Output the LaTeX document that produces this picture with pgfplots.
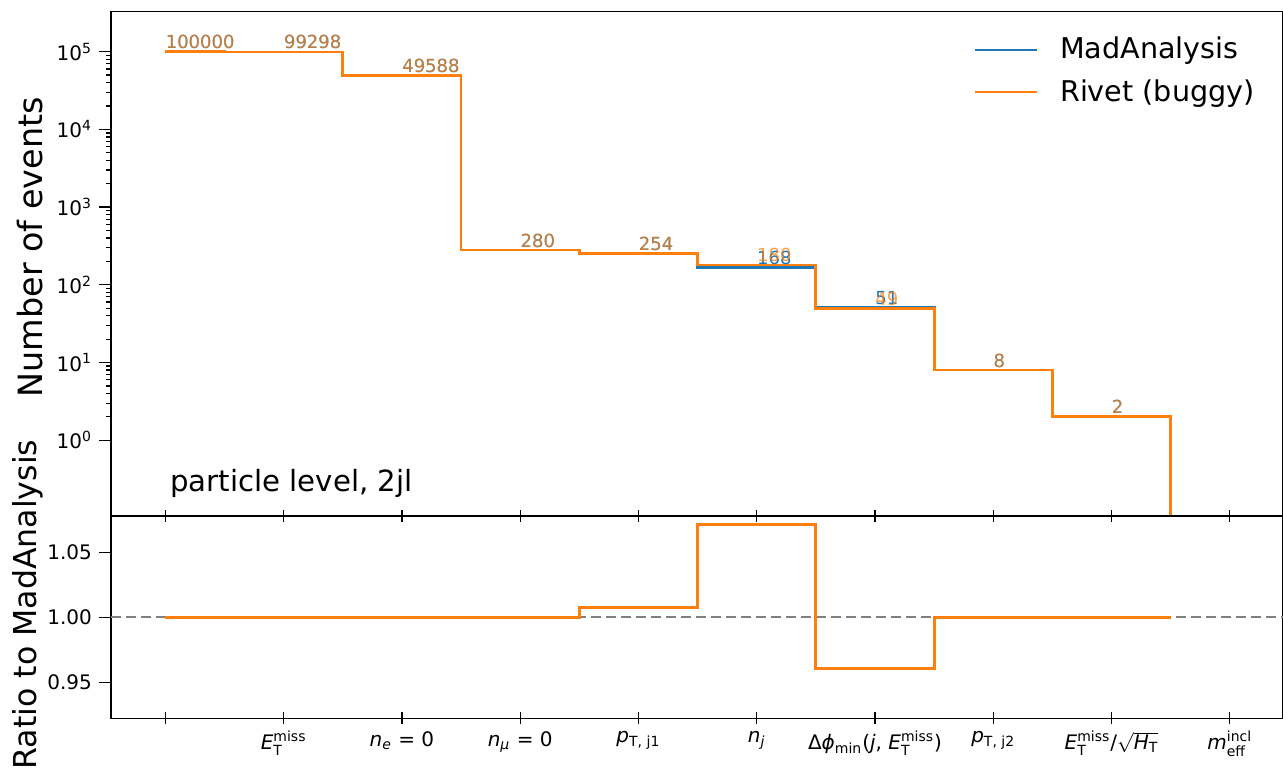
\documentclass[border=0pt]{standalone}
\usepackage{fontspec}
\setmainfont{DejaVu Sans}
\usepackage{amsmath}
\usepackage{pgfplots}
\usepackage{pgfplotstable}
\pgfplotsset{compat=1.18}
\definecolor{mablue}{HTML}{1F77B4}
\definecolor{rvorange}{HTML}{FF7F0E}

\pgfplotstableread{
x ma rv mal rvl
0 100000 100000 100000 100000
1 99298 99298 99298 99298
2 49588 49588 49588 49588
3 280 280 280 280
4 254 254 254 254
5 168 180 168 180
6 51 49 51 49
7 8 8 8 8
8 2 2 2 2
9 0.001 0.001 {} {}
}\counts

\pgfplotstableread{
x r
0 1
1 1
2 1
3 1
4 1.0079
5 1.0714
6 0.9608
7 1
8 1
8.5 1
}\ratio

\begin{document}
\begin{tikzpicture}
\pgfplotsset{
  every axis/.append style={
    scale only axis, width=586pt,
    xmin=-0.46, xmax=9.45,
    xtick={0,...,9},
    xtick pos=left, ytick pos=left,
    tick style={black, line width=0.6pt},
    major tick length=6pt, minor tick length=2.5pt,
    xtick align=center, ytick align=outside,
    axis line style={line width=0.6pt},
    tick label style={font=\fontsize{10}{12}\selectfont},
    ylabel style={font=\fontsize{16.7}{20}\selectfont, anchor=south},
  }
}
\begin{axis}[
  at={(55.5pt,126.5pt)}, anchor=south west,
  height=252.15pt,
  ymode=log, ymin=0.106, ymax=3.27e5,
  xticklabels={},
  ytick={1,10,100,1000,10000,100000},
  yticklabels={10\textsuperscript{0},10\textsuperscript{1},10\textsuperscript{2},10\textsuperscript{3},10\textsuperscript{4},10\textsuperscript{5}},
  ylabel={Number of events},
  ylabel style={at={(axis description cs:-0.052,0.533)}},
  legend style={draw=none, fill=none, font=\fontsize{14.3}{17}\selectfont,
    at={(axis description cs:0.731,0.966)}, anchor=north west, row sep=5pt,
    /tikz/every odd column/.append style={column sep=9pt}},
  legend cell align=left,
  legend image code/.code={\draw[#1, line width=1pt] (0pt,0pt) -- (31pt,0pt);},
]
\addplot[const plot mark mid, mablue, line width=1.4pt] table[x=x,y=ma]{\counts};
\addlegendentry{MadAnalysis}
\addplot[const plot mark mid, rvorange, line width=1.4pt] table[x=x,y=rv]{\counts};
\addlegendentry{Rivet (buggy)}
\addplot[draw=none, mark=none, forget plot, skip coords between index={9}{10},
  nodes near coords, point meta=explicit symbolic,
  nodes near coords style={anchor=base west, inner sep=0pt, yshift=1.5pt, text=mablue, font=\fontsize{9}{11}\selectfont}]
  table[x=x,y=ma,meta=mal]{\counts};
\addplot[draw=none, mark=none, forget plot, skip coords between index={9}{10},
  nodes near coords, point meta=explicit symbolic,
  nodes near coords style={anchor=base west, inner sep=0pt, yshift=1.5pt, text=rvorange, text opacity=0.75, font=\fontsize{9}{11}\selectfont}]
  table[x=x,y=rv,meta=rvl]{\counts};
\node[anchor=base west, inner sep=0pt, font=\fontsize{14.6}{17}\selectfont] at (axis description cs:0.0503,0.0476) {particle level, 2jl};
\end{axis}

\begin{axis}[
  at={(55.5pt,25.35pt)}, anchor=south west,
  height=101.15pt,
  ymin=0.9227, ymax=1.0778,
  ytick={0.95,1,1.05},
  yticklabels={0.95,1.00,1.05},
  xticklabels={{},
    {\textit{E}$^{\text{miss}}_{\text{T}}$},
    {\textit{n}$_{\textit{e}}$ = 0},
    {\textit{n}$_{\textit{μ}}$ = 0},
    {\textit{p}$_{\text{T, j1}}$},
    {\textit{n}$_{\textit{j}}$},
    {Δ\textit{ϕ}$_{\text{min}}$(\textit{j}, \textit{E}$^{\text{miss}}_{\text{T}}$)},
    {\textit{p}$_{\text{T, j2}}$},
    {\textit{E}$^{\text{miss}}_{\text{T}}$/$\sqrt{\textit{H}_{\text{T}}}$},
    {\textit{m}$^{\text{incl}}_{\text{eff}}$}},
  ylabel={Ratio to MadAnalysis},
  ylabel style={at={(axis description cs:-0.052,0.562)}, font=\fontsize{15.8}{19}\selectfont},
]
\addplot[gray, line width=1pt, dash pattern=on 5pt off 2.5pt] coordinates {(-0.46,1) (9.45,1)};
\addplot[const plot mark mid, rvorange, line width=1.4pt] table[x=x,y=r]{\ratio};
\end{axis}
\pgfresetboundingbox
\path[use as bounding box] (0,0) rectangle (641.5pt,384.5pt);
\end{tikzpicture}
\end{document}
